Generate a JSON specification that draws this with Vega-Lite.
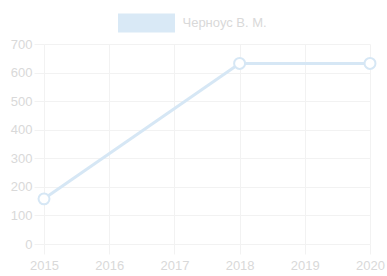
{
  "$schema": "https://vega.github.io/schema/vega-lite/v6.json",
  "width": 326,
  "height": 200,
  "autosize": "none",
  "padding": {"left": 44, "top": 44, "right": 17, "bottom": 32},
  "background": "white",
  "config": {"font": "Liberation Sans", "view": {"stroke": null}},
  "data": {"values": [
    {"year": 2015, "value": 158, "series": "Черноус В. М."},
    {"year": 2018, "value": 632, "series": "Черноус В. М."},
    {"year": 2020, "value": 632, "series": "Черноус В. М."}
  ]},
  "encoding": {
    "x": {"field": "year", "type": "quantitative",
      "scale": {"domain": [2015, 2020], "nice": false, "zero": false},
      "axis": {"values": [2015, 2016, 2017, 2018, 2019, 2020], "format": "d", "title": null,
        "grid": true, "gridColor": "#f2f2f2", "domain": false, "tickColor": "#f2f2f2", "tickSize": 10,
        "labelColor": "#d9d9d9", "labelFontSize": 13, "labelPadding": 5, "labelFlush": false, "labelOverlap": false}},
    "y": {"field": "value", "type": "quantitative",
      "scale": {"domain": [0, 700], "nice": false},
      "axis": {"values": [0, 100, 200, 300, 400, 500, 600, 700], "title": null,
        "grid": true, "gridColor": "#f2f2f2", "domain": false, "tickColor": "#f2f2f2", "tickSize": 10,
        "labelColor": "#d9d9d9", "labelFontSize": 13, "labelPadding": 2, "labelFlush": false}}
  },
  "layer": [
    {"mark": {"type": "line", "strokeWidth": 3},
     "encoding": {"color": {"field": "series", "type": "nominal",
       "scale": {"range": ["#d6e7f5"]},
       "legend": {"orient": "none", "legendX": 83.5, "legendY": -40, "padding": 0, "title": null,
         "symbolType": "M-1.5,-0.5H1.5V0.5H-1.5Z", "symbolSize": 1444,
         "symbolFillColor": "#d9e9f6", "symbolStrokeColor": "#d9e9f6", "symbolStrokeWidth": 0,
         "labelColor": "#d9d9d9", "labelFontSize": 13, "labelOffset": 17}}}},
    {"mark": {"type": "point", "filled": true, "fill": "white", "stroke": "#d6e7f5", "strokeWidth": 2, "size": 120, "opacity": 1}}
  ]
}
